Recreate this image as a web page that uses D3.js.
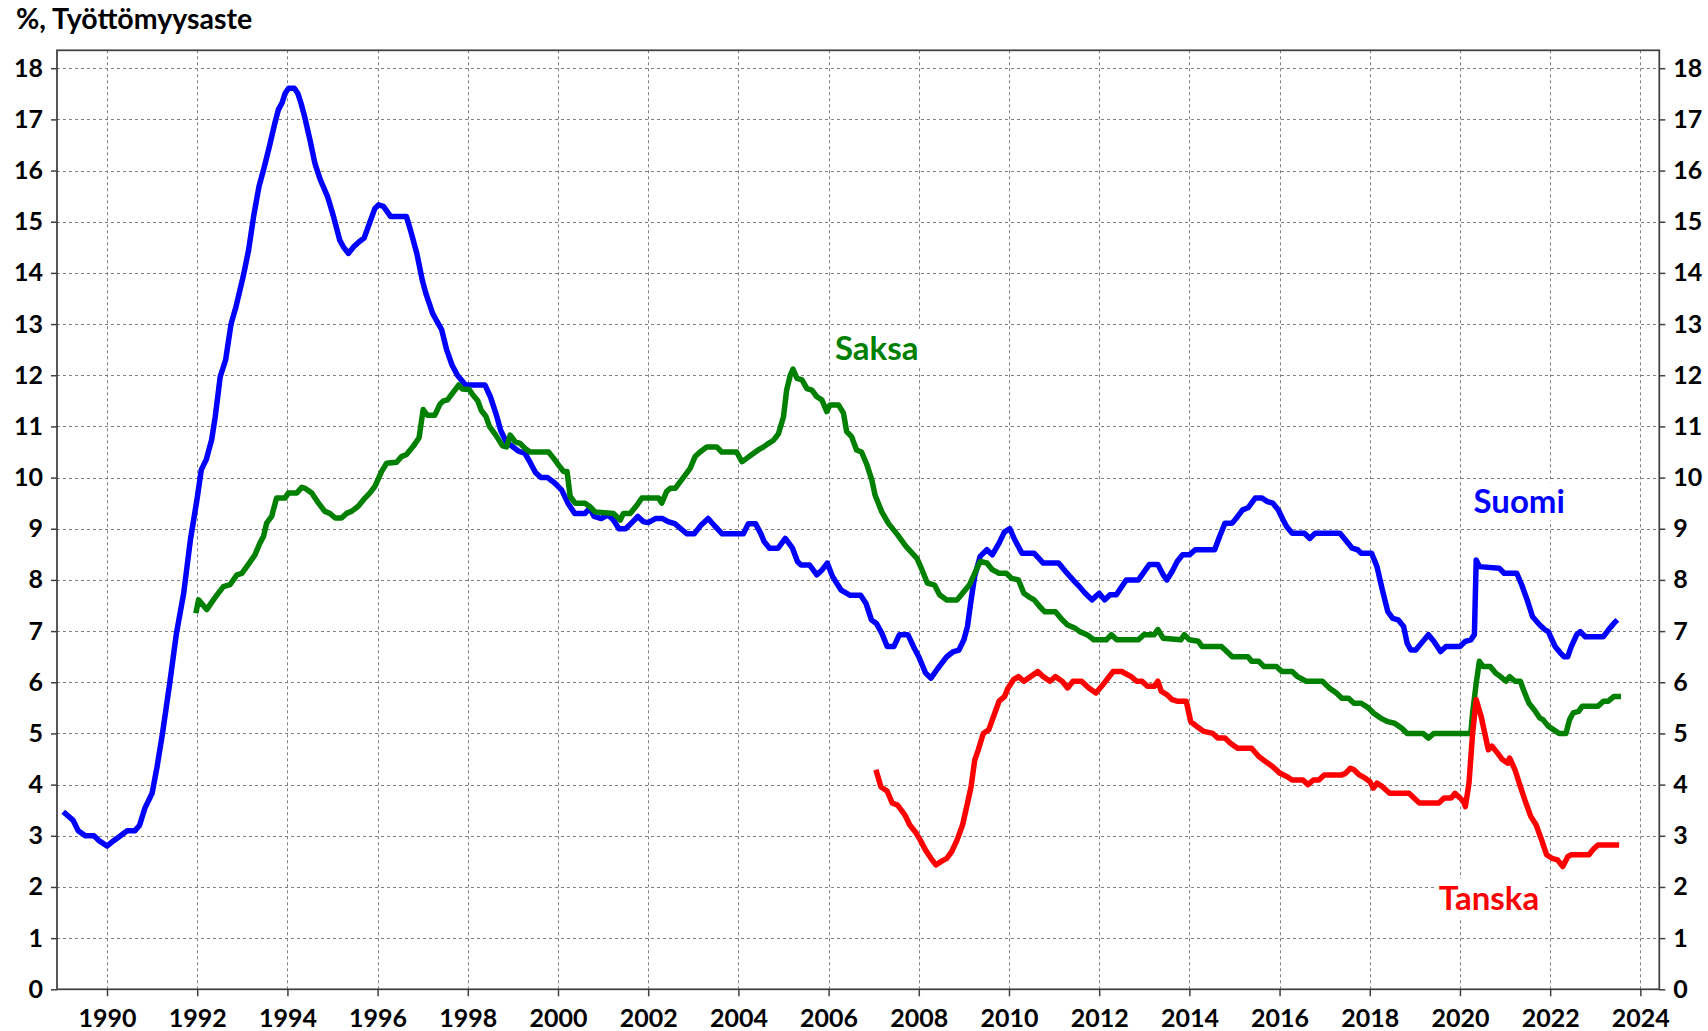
<!DOCTYPE html>
<html><head><meta charset="utf-8">
<script src="https://cdn.jsdelivr.net/npm/d3@7"></script>
<style>
html,body{margin:0;padding:0;background:#fff;}
svg{display:block;}
text{font-family:Lato,"Noto Sans",sans-serif;font-weight:bold;}
</style>
</head><body>
<svg id="chart" width="1708" height="1031"></svg>
<script>
const titleText = "%, Työttömyysaste";
const xTicks = [1990,1992,1994,1996,1998,2000,2002,2004,2006,2008,2010,2012,2014,2016,2018,2020,2022,2024];
const yTicks = [0,1,2,3,4,5,6,7,8,9,10,11,12,13,14,15,16,17,18];
const seriesNames = ["Suomi","Saksa","Tanska"];

// Suomi (Finland)
const fiYears = [1989.03,1989.25,1989.36,1989.52,1989.71,1989.83,1990.0,1990.14,1990.3,1990.45,1990.62,1990.72,1990.84,1991.0,1991.11,1991.23,1991.39,1991.54,1991.7,1991.85,1992.0,1992.09,1992.2,1992.32,1992.4,1992.51,1992.63,1992.75,1992.86,1993.02,1993.14,1993.25,1993.37,1993.49,1993.6,1993.72,1993.8,1993.88,1993.95,1994.03,1994.15,1994.23,1994.3,1994.38,1994.5,1994.61,1994.73,1994.89,1995.0,1995.08,1995.16,1995.24,1995.35,1995.47,1995.59,1995.7,1995.82,1995.94,1996.02,1996.13,1996.29,1996.64,1996.75,1996.87,1996.99,1997.07,1997.22,1997.3,1997.42,1997.53,1997.65,1997.77,1997.95,1998.38,1998.5,1998.62,1998.73,1998.85,1999.0,1999.12,1999.27,1999.38,1999.5,1999.62,1999.77,1999.92,2000.08,2000.22,2000.37,2000.6,2000.7,2000.8,2000.96,2001.11,2001.23,2001.35,2001.5,2001.66,2001.77,2001.89,2002.0,2002.16,2002.32,2002.44,2002.59,2002.75,2002.86,2003.02,2003.17,2003.33,2003.49,2003.64,2004.11,2004.22,2004.38,2004.5,2004.57,2004.69,2004.88,2005.04,2005.2,2005.31,2005.39,2005.58,2005.74,2005.86,2005.97,2006.09,2006.28,2006.48,2006.71,2006.83,2006.95,2007.06,2007.18,2007.3,2007.45,2007.57,2007.76,2007.88,2008.0,2008.15,2008.27,2008.42,2008.62,2008.77,2008.89,2009.0,2009.08,2009.16,2009.24,2009.36,2009.51,2009.63,2009.78,2009.9,2010.02,2010.13,2010.29,2010.56,2010.76,2011.1,2011.26,2011.42,2011.53,2011.69,2011.84,2012.0,2012.12,2012.24,2012.38,2012.6,2012.87,2013.11,2013.3,2013.42,2013.5,2013.62,2013.73,2013.85,2014.0,2014.13,2014.56,2014.67,2014.79,2014.95,2015.07,2015.18,2015.3,2015.46,2015.61,2015.73,2015.85,2015.97,2016.08,2016.16,2016.28,2016.55,2016.67,2016.79,2017.34,2017.49,2017.61,2017.73,2017.81,2018.04,2018.16,2018.28,2018.4,2018.51,2018.63,2018.75,2018.83,2018.91,2019.02,2019.14,2019.3,2019.42,2019.57,2019.69,2020.0,2020.12,2020.24,2020.32,2020.36,2020.43,2020.87,2020.98,2021.26,2021.37,2021.49,2021.61,2021.77,2021.88,2021.96,2022.04,2022.11,2022.23,2022.31,2022.39,2022.47,2022.59,2022.67,2022.78,2023.18,2023.29,2023.41,2023.49];
const fiValues = [3.47,3.3,3.1,3.0,3.0,2.9,2.8,2.9,3.0,3.1,3.1,3.2,3.54,3.83,4.35,5.0,5.98,6.96,7.74,8.79,9.6,10.15,10.35,10.74,11.19,11.97,12.3,13.0,13.34,13.93,14.45,15.1,15.69,16.08,16.47,16.92,17.19,17.32,17.51,17.61,17.61,17.51,17.32,17.06,16.6,16.14,15.82,15.49,15.17,14.91,14.64,14.51,14.38,14.51,14.61,14.68,14.97,15.26,15.33,15.3,15.1,15.1,14.77,14.38,13.86,13.6,13.21,13.08,12.89,12.5,12.2,12.0,11.81,11.81,11.58,11.26,10.92,10.7,10.6,10.52,10.47,10.3,10.1,10.0,10.0,9.9,9.76,9.5,9.3,9.3,9.4,9.24,9.2,9.27,9.17,9.0,9.0,9.14,9.24,9.14,9.12,9.2,9.2,9.14,9.1,8.98,8.9,8.9,9.07,9.2,9.04,8.9,8.9,9.1,9.1,8.9,8.75,8.62,8.62,8.81,8.62,8.36,8.29,8.29,8.1,8.2,8.33,8.06,7.8,7.7,7.7,7.54,7.22,7.15,6.96,6.7,6.7,6.93,6.93,6.7,6.5,6.18,6.08,6.27,6.5,6.6,6.63,6.83,7.09,7.61,8.07,8.46,8.59,8.49,8.72,8.94,9.0,8.78,8.52,8.52,8.33,8.33,8.16,8.0,7.9,7.74,7.61,7.74,7.61,7.71,7.71,8.0,8.0,8.3,8.3,8.1,8.0,8.17,8.36,8.49,8.49,8.59,8.59,8.85,9.11,9.11,9.24,9.37,9.41,9.6,9.6,9.53,9.5,9.37,9.17,9.04,8.91,8.91,8.81,8.91,8.91,8.75,8.62,8.59,8.52,8.52,8.26,7.8,7.38,7.25,7.22,7.09,6.76,6.63,6.63,6.76,6.93,6.8,6.6,6.7,6.7,6.8,6.83,6.93,8.39,8.26,8.23,8.13,8.13,7.9,7.61,7.28,7.12,7.03,6.99,6.83,6.7,6.57,6.5,6.5,6.7,6.93,6.99,6.89,6.89,7.02,7.15,7.22];

// Saksa (Germany)
const deYears = [1991.97,1992.03,1992.21,1992.39,1992.58,1992.73,1992.88,1992.99,1993.13,1993.28,1993.39,1993.47,1993.54,1993.65,1993.76,1993.95,1994.02,1994.21,1994.32,1994.39,1994.54,1994.69,1994.83,1994.94,1995.06,1995.2,1995.31,1995.42,1995.57,1995.72,1995.83,1995.94,1996.09,1996.2,1996.42,1996.53,1996.64,1996.79,1996.92,1997.01,1997.1,1997.27,1997.38,1997.46,1997.55,1997.67,1997.8,1997.88,1998.03,1998.1,1998.22,1998.3,1998.4,1998.48,1998.62,1998.77,1998.86,1998.94,1999.05,1999.16,1999.27,1999.38,1999.79,1999.9,2000.01,2000.12,2000.2,2000.27,2000.38,2000.6,2000.71,2000.82,2001.23,2001.38,2001.45,2001.6,2001.75,2001.86,2002.23,2002.3,2002.41,2002.49,2002.6,2002.71,2002.82,2002.93,2003.04,2003.15,2003.3,2003.52,2003.63,2003.96,2004.08,2004.19,2004.33,2004.44,2004.56,2004.67,2004.78,2004.89,2005.0,2005.07,2005.15,2005.21,2005.3,2005.41,2005.52,2005.63,2005.74,2005.85,2005.96,2006.03,2006.22,2006.33,2006.4,2006.51,2006.62,2006.73,2006.85,2006.96,2007.03,2007.18,2007.33,2007.53,2007.72,2007.96,2008.07,2008.19,2008.35,2008.46,2008.62,2008.85,2008.97,2009.12,2009.24,2009.36,2009.51,2009.63,2009.78,2009.94,2010.06,2010.21,2010.33,2010.44,2010.56,2010.68,2010.79,2011.03,2011.18,2011.3,2011.46,2011.57,2011.73,2011.88,2012.16,2012.27,2012.39,2012.87,2012.99,2013.22,2013.3,2013.42,2013.81,2013.89,2014.0,2014.2,2014.28,2014.71,2014.83,2014.95,2015.3,2015.38,2015.54,2015.65,2015.93,2016.05,2016.28,2016.4,2016.59,2016.95,2017.1,2017.26,2017.38,2017.53,2017.65,2017.81,2017.97,2018.08,2018.24,2018.4,2018.55,2018.71,2018.83,2019.18,2019.3,2019.42,2020.24,2020.28,2020.36,2020.43,2020.51,2020.67,2020.79,2020.9,2021.02,2021.1,2021.22,2021.34,2021.41,2021.53,2021.65,2021.77,2021.84,2021.96,2022.08,2022.2,2022.35,2022.43,2022.51,2022.63,2022.71,2023.06,2023.18,2023.29,2023.41,2023.57];
const deValues = [7.35,7.61,7.42,7.65,7.87,7.91,8.1,8.13,8.3,8.49,8.72,8.85,9.11,9.24,9.6,9.6,9.7,9.7,9.81,9.79,9.7,9.5,9.34,9.3,9.21,9.21,9.3,9.34,9.44,9.6,9.7,9.83,10.12,10.28,10.3,10.41,10.45,10.61,10.78,11.33,11.22,11.22,11.43,11.5,11.52,11.66,11.81,11.73,11.72,11.63,11.5,11.31,11.2,11.0,10.83,10.62,10.6,10.83,10.7,10.67,10.57,10.5,10.5,10.38,10.25,10.12,10.12,9.63,9.5,9.5,9.43,9.33,9.3,9.17,9.3,9.3,9.46,9.6,9.6,9.5,9.73,9.79,9.79,9.92,10.05,10.18,10.41,10.5,10.6,10.6,10.5,10.5,10.31,10.38,10.47,10.54,10.6,10.67,10.73,10.86,11.19,11.71,12.0,12.12,11.94,11.91,11.74,11.71,11.58,11.52,11.29,11.42,11.42,11.26,10.9,10.8,10.54,10.5,10.25,9.95,9.66,9.33,9.1,8.88,8.65,8.42,8.2,7.94,7.9,7.71,7.61,7.61,7.74,7.9,8.13,8.36,8.33,8.2,8.13,8.13,8.03,8.0,7.74,7.67,7.61,7.48,7.38,7.38,7.22,7.12,7.06,6.99,6.93,6.83,6.83,6.93,6.83,6.83,6.93,6.93,7.03,6.86,6.83,6.93,6.83,6.8,6.7,6.7,6.6,6.5,6.5,6.41,6.41,6.31,6.31,6.21,6.21,6.11,6.02,6.02,5.89,5.79,5.69,5.69,5.59,5.59,5.5,5.4,5.3,5.23,5.2,5.1,5.0,5.0,4.91,5.0,5.0,5.4,5.98,6.41,6.31,6.31,6.18,6.11,6.02,6.11,6.02,6.02,5.85,5.59,5.46,5.3,5.27,5.14,5.07,5.0,5.0,5.27,5.4,5.43,5.53,5.53,5.63,5.63,5.72,5.72];

// Tanska (Denmark)
const dkYears = [2007.05,2007.16,2007.3,2007.41,2007.53,2007.69,2007.8,2007.92,2008.03,2008.15,2008.27,2008.38,2008.5,2008.62,2008.73,2008.85,2008.97,2009.08,2009.16,2009.24,2009.32,2009.43,2009.55,2009.67,2009.78,2009.9,2009.98,2010.1,2010.21,2010.33,2010.48,2010.64,2010.76,2010.91,2011.03,2011.18,2011.3,2011.42,2011.61,2011.77,2011.93,2012.08,2012.31,2012.5,2012.71,2012.83,2012.95,2013.07,2013.22,2013.3,2013.38,2013.5,2013.62,2013.73,2013.93,2014.03,2014.16,2014.32,2014.52,2014.63,2014.79,2014.91,2015.07,2015.38,2015.54,2015.69,2015.85,2016.01,2016.16,2016.28,2016.52,2016.63,2016.75,2016.87,2016.99,2017.38,2017.46,2017.57,2017.65,2017.77,2017.89,2018.0,2018.08,2018.16,2018.28,2018.44,2018.87,2018.98,2019.1,2019.53,2019.65,2019.81,2019.89,2020.0,2020.08,2020.12,2020.2,2020.28,2020.36,2020.47,2020.55,2020.63,2020.71,2020.83,2020.94,2021.06,2021.1,2021.22,2021.34,2021.45,2021.57,2021.69,2021.81,2021.92,2022.04,2022.16,2022.28,2022.39,2022.47,2022.86,2022.94,2023.06,2023.53];
const dkValues = [4.29,3.96,3.87,3.64,3.6,3.41,3.21,3.08,2.92,2.72,2.56,2.43,2.5,2.56,2.69,2.92,3.21,3.64,3.96,4.48,4.68,5.0,5.07,5.36,5.63,5.72,5.89,6.05,6.11,6.02,6.11,6.21,6.11,6.02,6.11,6.02,5.89,6.02,6.02,5.89,5.79,5.95,6.21,6.21,6.11,6.02,6.02,5.92,5.92,6.02,5.82,5.76,5.66,5.63,5.63,5.23,5.14,5.04,5.0,4.91,4.91,4.81,4.71,4.71,4.55,4.45,4.35,4.22,4.16,4.09,4.09,4.0,4.09,4.09,4.19,4.19,4.22,4.32,4.29,4.19,4.13,4.06,3.93,4.03,3.96,3.83,3.83,3.74,3.64,3.64,3.74,3.74,3.83,3.74,3.67,3.57,4.03,5.0,5.66,5.33,5.0,4.68,4.75,4.62,4.49,4.42,4.52,4.29,3.96,3.67,3.38,3.21,2.92,2.63,2.56,2.53,2.4,2.59,2.63,2.63,2.72,2.82,2.82];

const svg = d3.select("#chart");
const X0 = 57, X1 = 1659.3, Y0 = 989.3, Y1 = 50.3;
const x = d3.scaleLinear().domain([1988.891, 2024.42]).range([X0, X1]);
const y = d3.scaleLinear().domain([0, 18.35]).range([Y0, Y1]);

// gridlines
const grid = svg.append("g").attr("stroke", "#808080").attr("stroke-width", 1).attr("stroke-dasharray", "3,3");
grid.selectAll("line.h").data(yTicks.filter(d => d > 0)).join("line")
  .attr("x1", X0).attr("x2", X1).attr("y1", d => Math.round(y(d)) + 0.5).attr("y2", d => Math.round(y(d)) + 0.5);
grid.selectAll("line.v").data(xTicks).join("line")
  .attr("y1", Y1).attr("y2", Y0).attr("x1", d => Math.round(x(d)) + 0.5).attr("x2", d => Math.round(x(d)) + 0.5);

const labels = [
  {name: "Saksa", color: "#008000", xv: 2006.14, yv: 12.3},
  {name: "Suomi", color: "#0000FF", xv: 2020.3, yv: 9.3},
  {name: "Tanska", color: "#FF0000", xv: 2019.53, yv: 1.55}
];

// axes frame
const axisColor = "#404040";
const fmt = d3.format("d");
const gl = svg.append("g").attr("transform", `translate(${X0},0)`)
  .call(d3.axisLeft(y).tickValues(yTicks).tickFormat(fmt).tickSize(6).tickPadding(8));
const gr = svg.append("g").attr("transform", `translate(${X1},0)`)
  .call(d3.axisRight(y).tickValues(yTicks).tickFormat(fmt).tickSize(6).tickPadding(8));
const gb = svg.append("g").attr("transform", `translate(0,${Y0})`)
  .call(d3.axisBottom(x).tickValues(xTicks).tickFormat(fmt).tickSize(7).tickPadding(8));
[gl, gr, gb].forEach(g => {
  g.select(".domain").remove();
  g.selectAll(".tick line").attr("stroke", axisColor).attr("stroke-width", 1.5);
  g.selectAll(".tick text").attr("fill", "#000").style("font-size", "25px").style("font-family", "Lato").style("font-weight", "bold");
});
gb.selectAll(".tick text").attr("y", 38).attr("dy", null);
svg.append("rect").attr("x", X0).attr("y", Y1).attr("width", X1 - X0).attr("height", Y0 - Y1)
  .attr("fill", "none").attr("stroke", axisColor).attr("stroke-width", 1.75);

// title
svg.append("text").attr("x", 16).attr("y", 29).style("font-size", "28.5px").attr("fill", "#000").text(titleText);

// series labels with white boxes
const lblG = svg.append("g");
labels.forEach(l => {
  const t = lblG.append("text").attr("x", x(l.xv)).attr("y", y(l.yv)).attr("fill", l.color)
    .style("font-size", "33px").text(l.name);
  const b = t.node().getBBox();
  lblG.insert("rect", () => t.node()).attr("x", b.x - 4).attr("y", b.y + 2).attr("width", b.width + 8).attr("height", b.height - 2).attr("fill", "#fff");
});

// lines
const line = d3.line().x(d => x(d[0])).y(d => y(d[1]));
const series = [
  {years: fiYears, values: fiValues, color: "#0000FF"},
  {years: deYears, values: deValues, color: "#008000"},
  {years: dkYears, values: dkValues, color: "#FF0000"}
];
const lg = svg.append("g");
series.forEach(s => {
  const pts = s.years.map((t, i) => [t, s.values[i]]);
  lg.append("path").datum(pts).attr("d", line).attr("fill", "none").attr("stroke", s.color)
    .attr("stroke-width", 5.5).attr("stroke-linejoin", "round");
});
</script>
</body></html>
